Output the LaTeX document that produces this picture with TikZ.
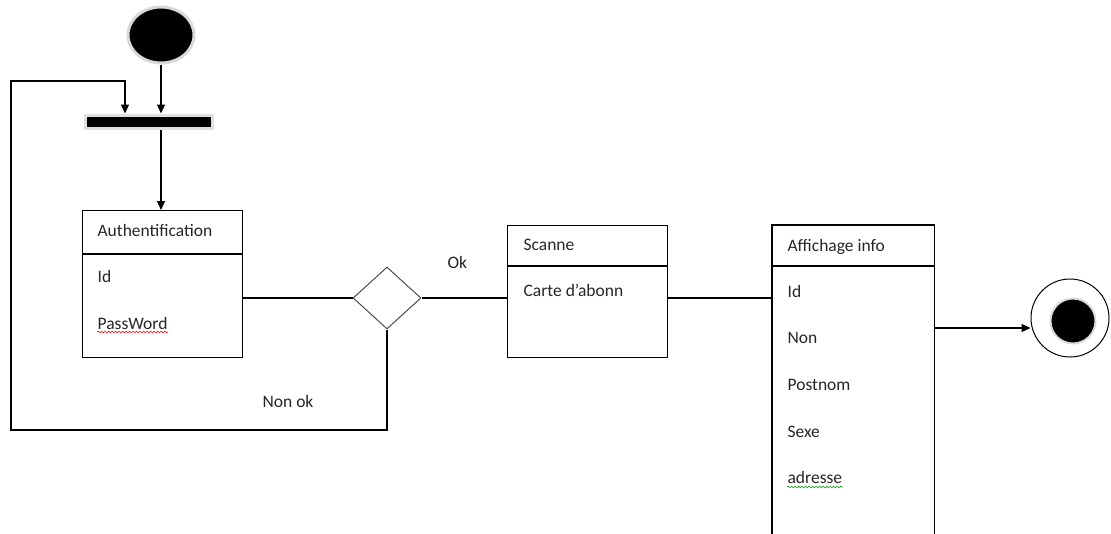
\documentclass[tikz,border=0pt]{standalone}
\usepackage{fontspec}
\setmainfont{Carlito}
\usetikzlibrary{shapes.geometric,arrows.meta,decorations.pathmorphing}
\begin{document}
\begin{tikzpicture}[x=1pt,y=-1pt,line width=1.2pt,
  txt/.style={font=\fontsize{17.5}{20}\selectfont,anchor=base west,inner sep=0pt,text=black!85},
  arr/.style={-{Triangle[length=9pt,width=8pt]}},
  box/.style={draw,rectangle,anchor=north west,inner sep=0pt},
  spell/.style={line width=0.6pt,decorate,decoration={snake,amplitude=0.9pt,segment length=3.5pt}}]
\useasboundingbox (0,0) rectangle (1111,533);

% initial state and synchronisation bar
\node[ellipse,fill=black,draw=black!15,line width=3pt,minimum width=66pt,minimum height=56pt,inner sep=0pt] (start) at (161,35) {};
\node[rectangle,fill=black,draw=black!12,line width=3pt,minimum width=127pt,minimum height=13pt,inner sep=0pt] (bar) at (148.5,121.5) {};

% activity boxes (header compartment separated by a rule)
\node[box,minimum width=160pt,minimum height=147pt] (auth) at (82,210) {};
\draw ([yshift=-44]auth.north west) -- ([yshift=-44]auth.north east);
\node[box,minimum width=160pt,minimum height=132pt] (scan) at (507,225) {};
\draw ([yshift=-41]scan.north west) -- ([yshift=-41]scan.north east);
\node[box,draw=none,minimum width=161pt,minimum height=320pt] (aff) at (772,225) {};
\draw (aff.south west) -- (aff.north west) -- (aff.north east) -- (aff.south east);
\draw ([yshift=-41]aff.north west) -- ([yshift=-41]aff.north east);

% decision
\node[diamond,draw=black!70,line width=1pt,minimum width=68pt,minimum height=62pt,inner sep=0pt] (dec) at (387,298) {};

% final state
\node[circle,draw,line width=1pt,minimum size=78pt,inner sep=0pt] (end) at (1070,318) {};
\node[circle,fill=black,draw=black!15,line width=2pt,minimum size=45pt,inner sep=0pt] (endin) at (1073,321) {};

% texts
\node[txt] (t1) at (97,236) {Authentification};
\node[txt] (t2) at (97,282) {Id};
\node[txt] (pw) at (97,329) {PassWord};
\node[txt] (t4) at (523,250) {Scanne};
\node[txt] (t5) at (523,296) {Carte d’abonn};
\node[txt] (t6) at (787,251) {Affichage info};
\node[txt] (t7) at (787,297) {Id};
\node[txt] (t8) at (787,343) {Non};
\node[txt] (t9) at (787,390) {Postnom};
\node[txt] (t10) at (787,437) {Sexe};
\node[txt] (adr) at (787,483) {adresse};
\node[txt] (ok) at (447,268) {Ok};
\node[txt] (nok) at (262,407) {Non ok};
\draw[spell,red] ([yshift=-3]pw.base west) -- ([yshift=-3]pw.base east);
\draw[spell,green!60!black] ([yshift=-4]adr.base west) -- ([yshift=-4]adr.base east);

% connectors
\coordinate (loopbl) at (11,430);
\coordinate (looptl) at (11,81);
\coordinate (barin) at (125,0);
\coordinate (finy) at (0,328);
\draw[arr] (start.south) -- (start.south |- bar.north);
\draw[arr] (bar.south -| start.south) -- (start.south |- auth.north);
\draw (auth.east |- dec.west) -- (dec.west);
\draw (dec.east) -- (scan.west |- dec.east);
\draw (scan.east |- dec.east) -- (aff.west |- dec.east);
\draw[arr] (dec.south) |- (loopbl) -- (looptl) -| (barin |- bar.north);
\draw[arr] (aff.east |- finy) -- (end.west |- finy);
\end{tikzpicture}
\end{document}
